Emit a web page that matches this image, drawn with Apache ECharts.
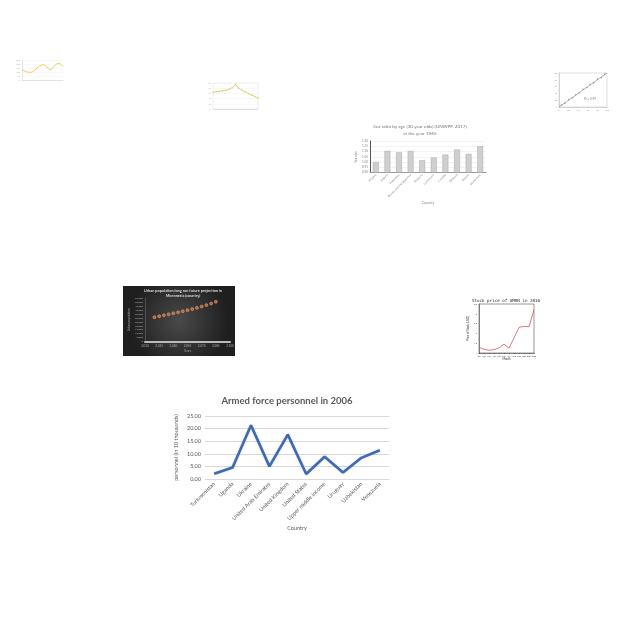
<!DOCTYPE html>
<html><head><meta charset="utf-8">
<script src="https://cdn.jsdelivr.net/npm/echarts@6/dist/echarts.min.js"></script>
<style>html,body{margin:0;padding:0;background:#fff}#c{width:640px;height:640px}</style>
</head><body><div id="c"></div>
<script>
// Main chart: Armed force personnel in 2006
const armedCountries = ['Turkmenistan','Uganda','Ukraine','United Arab Emirates','United Kingdom','United States','Upper middle income','Uruguay','Uzbekistan','Venezuela'];
const armedValues = [2.1, 4.6, 21.3, 5.0, 17.6, 2.0, 8.8, 2.6, 8.4, 11.4];

// Sex ratio thumbnail
const sexCountries = ['Albania','Algeria','Argentina','Bosnia and Herzegovina','Bulgaria','Cameroon','Croatia','Djibouti','Gabon','Guatemala'];
const sexValues = [1.00, 1.105, 1.093, 1.105, 1.017, 1.042, 1.07, 1.118, 1.077, 1.15];

// Urban population (Micronesia) thumbnail
const urbanYears = [2020,2025,2030,2035,2040,2045,2050,2055,2060,2065,2070,2075,2080,2085];
const urbanValues = [30800,32000,33200,34400,35600,36900,38200,39600,41000,42600,44200,46000,48000,50300];

// Stock price AMRN 2016 thumbnail
const stockMonths = ['Jan','Feb','Mar','Apr','May','Jun','Jul','Aug','Sep','Oct','Nov','Dec'];
const stockValues = [1.29,1.19,1.14,1.17,1.26,1.45,1.25,1.77,2.31,2.36,2.34,3.21];

// Yellow wave thumbnail
const waveValues = [125,115,105,98,96,105,125,150,170,183,187,175,150,128,145,175,198,208,195,167];

// Curve thumbnail
const curveValues = [64,66,68,70,72,76,82,94,80,72,66,60,54,48,42];

// Scatter thumbnail
const scatterX = [5,12,20,28,35,42,50,58,65,72,80,88,95];
const scatterY = [6,11,22,27,36,41,52,57,66,71,82,86,96];
const fitLine = [[0,0],[100,100]];

const chart = echarts.init(document.getElementById('c'), null, {renderer:'canvas'});
const FF = 'Lato, "Open Sans", sans-serif';
const tiny = (s, c) => ({fontSize:s, color:c||'#666', fontFamily:FF});

const option = {
  animation:false,
  backgroundColor:'#ffffff',
  graphic:[
    {type:'rect', shape:{x:123,y:286,width:112,height:70}, z:-10,
     style:{fill:{type:'radial',x:0.5,y:0.5,r:0.7,colorStops:[{offset:0,color:'#4a4a4a'},{offset:1,color:'#1f1f1f'}]}}},
    {type:'text', x:287, y:396, style:{text:'Armed force personnel in 2006', align:'center', verticalAlign:'top', fontSize:9.5, fontWeight:'bold', fill:'#595959', fontFamily:FF}},
    {type:'text', x:420, y:123, style:{text:'Sex ratio by age (30 year olds) (UNWPP, 2017)\nin the year 1965', align:'center', verticalAlign:'top', fontSize:4.6, lineHeight:7, fill:'#777', fontFamily:FF}},
    {type:'text', x:183, y:288.5, style:{text:'Urban population long run future projection in\nMicronesia (country)', align:'center', verticalAlign:'top', fontSize:3.8, lineHeight:5, fontWeight:'bold', fill:'#ddd', fontFamily:FF}},
    {type:'text', x:506, y:299, style:{text:'Stock price of AMRN in 2016', align:'center', verticalAlign:'top', fontSize:4.2, fill:'#222', fontFamily:'DejaVu Sans Mono'}},
    {type:'text', x:590, y:98, style:{text:'R² = 0.99', align:'center', verticalAlign:'top', fontSize:3, fill:'#888', fontFamily:FF}}
  ],
  grid:[
    {left:205, top:416, width:184, height:63, outerBoundsMode:'none'},
    {left:370, top:141, width:116, height:31.5, outerBoundsMode:'none'},
    {left:145, top:298, width:85, height:43.5, outerBoundsMode:'none'},
    {left:479, top:304, width:55, height:49, outerBoundsMode:'none', show:true, borderColor:'#333', borderWidth:0.5},
    {left:22, top:60, width:41, height:20, outerBoundsMode:'none'},
    {left:213, top:83, width:45, height:26, outerBoundsMode:'none', show:true, borderColor:'#ddd', borderWidth:0.5},
    {left:559, top:73, width:48, height:34, outerBoundsMode:'none', show:true, borderColor:'#bbb', borderWidth:0.5}
  ],
  xAxis:[
    {gridIndex:0, type:'category', data:armedCountries, boundaryGap:true,
     axisLine:{lineStyle:{color:'#d9d9d9'}}, axisTick:{show:false},
     axisLabel:{rotate:45, interval:0, margin:4, ...tiny(5.5,'#595959')},
     name:'Country', nameLocation:'middle', nameGap:46, nameTextStyle:tiny(5.5,'#595959')},
    {gridIndex:1, type:'category', data:sexCountries,
     axisLine:{lineStyle:{color:'#999'}}, axisTick:{show:false},
     axisLabel:{rotate:45, interval:0, margin:2, ...tiny(3,'#888')},
     name:'Country', nameLocation:'middle', nameGap:23, nameTextStyle:tiny(3.5,'#888')},
    {gridIndex:2, type:'value', min:2010, max:2100, interval:15,
     axisLine:{lineStyle:{color:'#bbb', width:2}}, axisTick:{show:false}, splitLine:{show:false},
     axisLabel:{margin:3, ...tiny(3,'#aaa')},
     name:'Years', nameLocation:'middle', nameGap:8, nameTextStyle:tiny(3,'#aaa')},
    {gridIndex:3, type:'category', data:stockMonths, boundaryGap:false,
     axisLine:{lineStyle:{color:'#333', width:0.5}}, axisTick:{length:1, lineStyle:{width:0.5}},
     axisLabel:{margin:2, interval:0, ...tiny(2.2,'#333')},
     name:'Month', nameLocation:'middle', nameGap:5, nameTextStyle:tiny(2.8,'#333')},
    {gridIndex:4, type:'category', data:waveValues.map((v,i)=>String(i+1)), boundaryGap:false,
     axisLine:{lineStyle:{color:'#ccc', width:0.5}}, axisTick:{show:false},
     axisLabel:{show:false}},
    {gridIndex:5, type:'category', data:curveValues.map((v,i)=>String(i+1)), boundaryGap:false,
     axisLine:{lineStyle:{color:'#ccc', width:0.5}}, axisTick:{show:false},
     axisLabel:{show:false}},
    {gridIndex:6, type:'value', min:0, max:100, interval:20,
     axisLine:{lineStyle:{color:'#bbb', width:0.5}}, axisTick:{show:false}, splitLine:{show:false},
     axisLabel:{margin:2, ...tiny(2.2,'#999')}}
  ],
  yAxis:[
    {gridIndex:0, type:'value', min:0, max:25, interval:5,
     axisLine:{show:false}, axisTick:{show:false},
     splitLine:{lineStyle:{color:'#d9d9d9', width:1}},
     axisLabel:{formatter:v=>v.toFixed(2), margin:4, ...tiny(5.5,'#595959')},
     name:'personnel (in 10 thousands)', nameLocation:'middle', nameGap:26, nameRotate:90, nameTextStyle:tiny(5.5,'#595959')},
    {gridIndex:1, type:'value', min:0.9, max:1.2, interval:0.05,
     axisLine:{show:true, lineStyle:{color:'#555', width:1}}, axisTick:{show:false},
     splitLine:{lineStyle:{color:'#e6e6e6', width:0.5}},
     axisLabel:{formatter:v=>v.toFixed(2), margin:2, ...tiny(3,'#888')},
     name:'Sex ratio', nameLocation:'middle', nameGap:12, nameRotate:90, nameTextStyle:tiny(3,'#888')},
    {gridIndex:2, type:'value', min:0, max:55000, interval:5000,
     axisLine:{show:true, lineStyle:{color:'#777', width:0.5}}, axisTick:{show:false}, splitLine:{show:false},
     axisLabel:{margin:2, ...tiny(2.6,'#aaa')},
     name:'Urban population', nameLocation:'middle', nameGap:12, nameRotate:90, nameTextStyle:tiny(3,'#aaa')},
    {gridIndex:3, type:'value', min:1, max:3.5, interval:0.5,
     axisLine:{show:true, lineStyle:{color:'#333', width:0.5}}, axisTick:{length:1, lineStyle:{width:0.5}}, splitLine:{show:false},
     axisLabel:{margin:2, ...tiny(2.2,'#333')},
     name:'Price of Stock (USD)', nameLocation:'middle', nameGap:6, nameRotate:90, nameTextStyle:tiny(2.8,'#333')},
    {gridIndex:4, type:'value', min:0, max:250, interval:50,
     axisLine:{show:true, lineStyle:{color:'#ccc', width:0.5}}, axisTick:{show:false},
     splitLine:{lineStyle:{color:'#f0f0f0', width:0.5}},
     axisLabel:{margin:2, ...tiny(2.2,'#bbb')}},
    {gridIndex:5, type:'value', min:0, max:100, interval:20,
     axisLine:{show:false}, axisTick:{show:false},
     splitLine:{lineStyle:{color:'#f0f0f0', width:0.5}},
     axisLabel:{margin:2, ...tiny(2.2,'#bbb')}},
    {gridIndex:6, type:'value', min:0, max:100, interval:20,
     axisLine:{lineStyle:{color:'#bbb', width:0.5}}, axisTick:{show:false}, splitLine:{show:false},
     axisLabel:{margin:2, ...tiny(2.2,'#999')}}
  ],
  series:[
    {type:'line', xAxisIndex:0, yAxisIndex:0, data:armedValues, symbol:'none',
     lineStyle:{color:'#4169b0', width:2.6, shadowColor:'rgba(68,114,196,0.35)', shadowBlur:2}},
    {type:'bar', xAxisIndex:1, yAxisIndex:1, data:sexValues, barWidth:'50%',
     itemStyle:{color:'#cfcfcf', borderColor:'#9a9a9a', borderWidth:0.4}},
    {type:'scatter', xAxisIndex:2, yAxisIndex:2, data:urbanYears.map((y,i)=>[y,urbanValues[i]]), symbolSize:3,
     itemStyle:{color:'#e0702a', borderColor:'#f5c9a5', borderWidth:0.5}},
    {type:'line', xAxisIndex:3, yAxisIndex:3, data:stockValues, symbol:'none',
     lineStyle:{color:'#e0505a', width:0.8}},
    {type:'line', xAxisIndex:4, yAxisIndex:4, data:waveValues, symbol:'none', smooth:true,
     lineStyle:{color:'#f2c94c', width:1}},
    {type:'line', xAxisIndex:5, yAxisIndex:5, data:curveValues, symbol:'circle', symbolSize:1.5,
     itemStyle:{color:'#d9cf6a'}, lineStyle:{color:'#d9cf6a', width:0.8}},
    {type:'scatter', xAxisIndex:6, yAxisIndex:6, data:scatterX.map((x,i)=>[x,scatterY[i]]), symbolSize:1.6,
     itemStyle:{color:'#8a8a8a'}},
    {type:'line', xAxisIndex:6, yAxisIndex:6, data:fitLine, symbol:'none',
     lineStyle:{color:'#666', width:0.5}}
  ]
};
chart.setOption(option);
</script>
</body></html>
